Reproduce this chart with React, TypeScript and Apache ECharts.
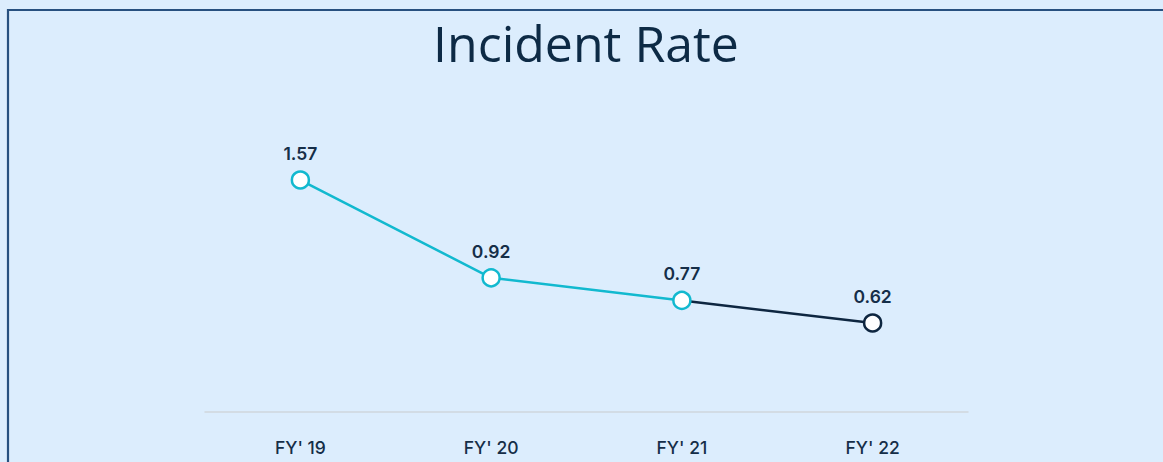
import React, { useEffect, useRef } from "react";
import * as echarts from "echarts";

const categories = ["FY' 19", "FY' 20", "FY' 21", "FY' 22"];
const pastValues: (number | string)[] = [1.57, 0.92, 0.77, "-"];
const latestValues: (number | string)[] = ["-", "-", 0.77, 0.62];
const titleText = "Incident Rate";

const BG = "#dcedfd";
const CYAN = "#12b9cf";
const NAVY = "#0e2640";
const TEXT = "#152e48";

export default function App() {
  const ref = useRef<HTMLDivElement>(null);
  useEffect(() => {
    if (!ref.current) return;
    const chart = echarts.init(ref.current, undefined, { renderer: "svg" });
    const labelCfg = {
      show: true,
      position: "top",
      distance: 8,
      color: TEXT,
      fontFamily: "Inter",
      fontWeight: 600,
      fontSize: 17.5,
    };
    chart.setOption({
      animation: false,
      backgroundColor: BG,
      graphic: [
        {
          type: "rect",
          shape: { x: 8, y: 10, width: 1170, height: 470 },
          style: { fill: "none", stroke: "#27507f", lineWidth: 2.2 },
          z: 0,
        },
        {
          type: "text",
          x: 586,
          y: 18,
          style: {
            text: titleText,
            textAlign: "center",
            textVerticalAlign: "top",
            fontFamily: "Open Sans",
            fontSize: 50,
            fontWeight: 400,
            fill: "#0d2a45",
          },
        },
      ],
      grid: { left: 205, right: 195, top: 115.3, bottom: 45.7 },
      xAxis: {
        type: "category",
        data: categories,
        boundaryGap: true,
        offset: -5,
        axisLine: { show: true, lineStyle: { color: "#cfd6dc", width: 1.5 } },
        axisTick: { show: false },
        axisLabel: {
          margin: 27,
          color: TEXT,
          fontFamily: "Inter",
          fontWeight: 500,
          fontSize: 17.5,
        },
        splitLine: { show: false },
      },
      yAxis: {
        type: "value",
        min: 0,
        max: 2,
        show: false,
        splitLine: { show: false },
      },
      series: [
        {
          type: "line",
          data: latestValues.map((v, i) =>
            i === 2 ? { value: v, symbol: "none", label: { show: false } } : v
          ),
          z: 2,
          symbol: "circle",
          symbolSize: 17,
          itemStyle: { color: "#ffffff", borderColor: NAVY, borderWidth: 2.5 },
          lineStyle: { color: NAVY, width: 2.5 },
          label: labelCfg,
        },
        {
          type: "line",
          data: pastValues,
          z: 3,
          symbol: "circle",
          symbolSize: 17,
          itemStyle: { color: "#ffffff", borderColor: CYAN, borderWidth: 2.5 },
          lineStyle: { color: CYAN, width: 2.5 },
          label: labelCfg,
        },
      ],
    });
    return () => chart.dispose();
  }, []);
  return (
    <div style={{ position: "fixed", left: 0, top: 0, right: 0, bottom: 0, background: BG }}>
      <div ref={ref} style={{ width: 1163, height: 462 }} />
    </div>
  );
}
